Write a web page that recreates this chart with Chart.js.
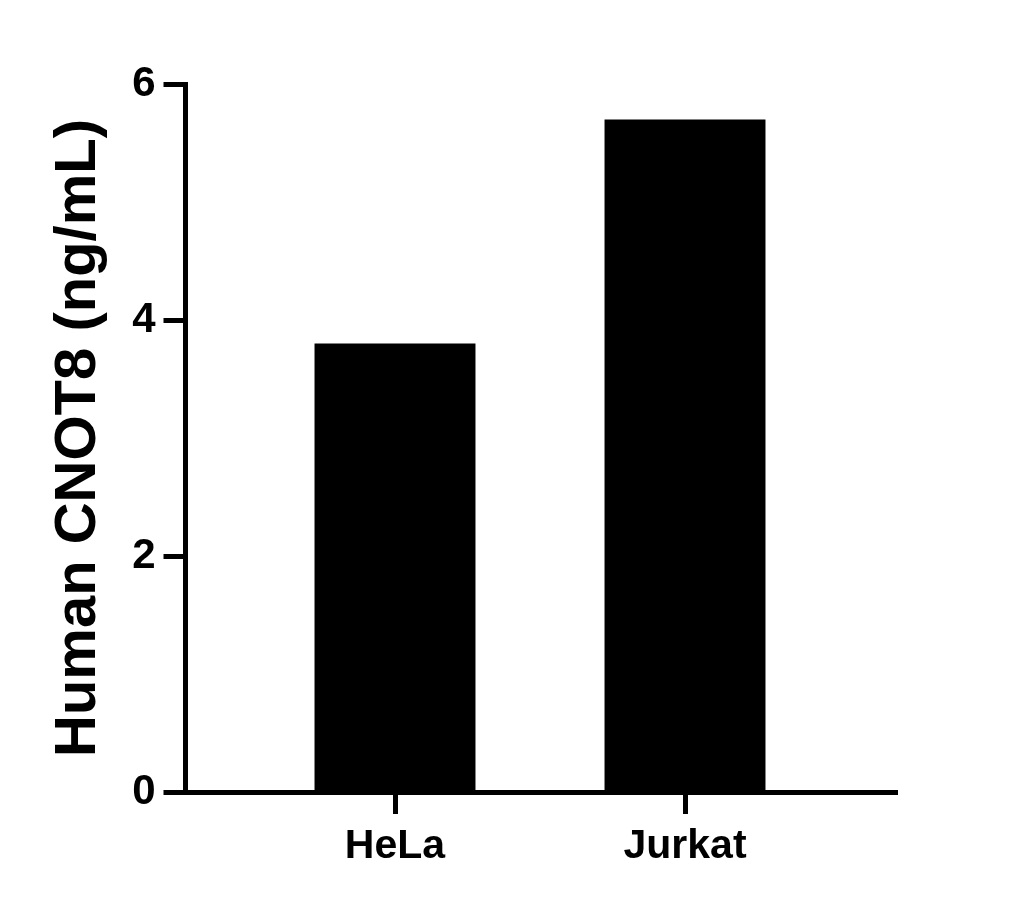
<!DOCTYPE html>
<html>
<head>
<meta charset="utf-8">
<script src="https://cdn.jsdelivr.net/npm/chart.js@4"></script>
<style>
  html, body { margin: 0; padding: 0; background: #fff; }
  #wrap { width: 1028px; height: 909px; position: relative; }
</style>
</head>
<body>
<div id="wrap"><canvas id="cnotChart"></canvas></div>
<script>
const categories = ["HeLa", "Jurkat"];
const cnot8Values = [3.8, 5.7];
const yTicks = [0, 2, 4, 6];
const yTitle = "Human CNOT8 (ng/mL)";

const FONT = "'Liberation Sans', Arial, sans-serif";

const ctx = document.getElementById("cnotChart").getContext("2d");

new Chart(ctx, {
  type: "bar",
  data: {
    datasets: [{
      data: categories.map((c, i) => ({ x: i, y: cnot8Values[i] })),
      backgroundColor: "#000",
      borderWidth: 0,
      barPercentage: 0.555,
      categoryPercentage: 1
    }]
  },
  options: {
    responsive: true,
    maintainAspectRatio: false,
    animation: false,
    layout: { padding: { top: 84, right: 131, left: 0, bottom: 0 } },
    plugins: { legend: { display: false }, tooltip: { enabled: false } },
    scales: {
      x: {
        type: "linear",
        min: -0.7224,
        max: 1.731,
        offset: false,
        afterBuildTicks: s => { s.ticks = categories.map((c, i) => ({ value: i })); },
        afterFit: s => { s.height = 117; },
        border: { display: true, color: "#000", width: 5 },
        grid: { offset: false, drawOnChartArea: false, drawTicks: true, tickLength: 22, tickWidth: 5, tickColor: "#000" },
        ticks: {
          color: "#000",
          padding: 8,
          maxRotation: 0,
          font: { family: FONT, size: 41, weight: "bold" },
          callback: v => categories[v] ?? ""
        }
      },
      y: {
        min: 0,
        max: 6,
        afterBuildTicks: s => { s.ticks = yTicks.map(v => ({ value: v })); },
        afterFit: s => { s.width = 185.5; },
        border: { display: true, color: "#000", width: 5 },
        grid: { drawOnChartArea: false, drawTicks: true, tickLength: 22, tickWidth: 5, tickColor: "#000" },
        ticks: {
          color: "#000",
          padding: 8,
          font: { family: FONT, size: 42, weight: "bold" }
        },
        title: {
          display: true,
          text: yTitle,
          color: "#000",
          padding: { top: 44, bottom: 0 },
          font: { family: FONT, size: 58, weight: "bold" }
        }
      }
    }
  }
});
</script>
</body>
</html>
